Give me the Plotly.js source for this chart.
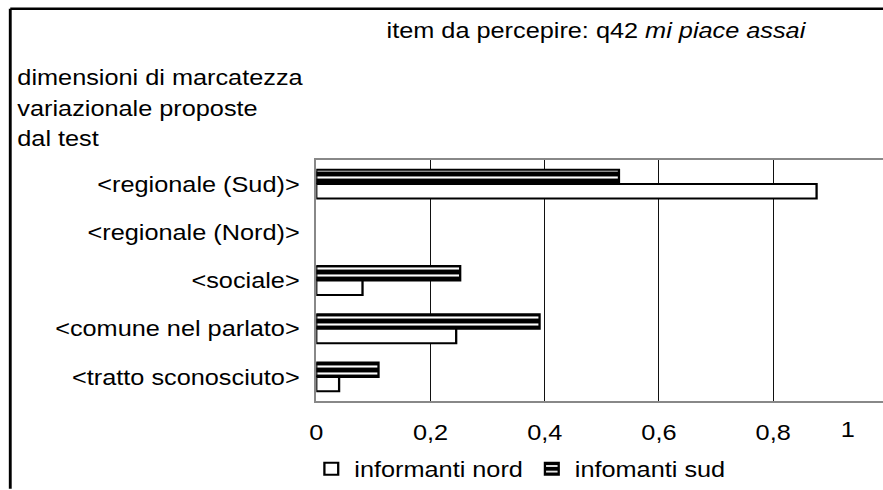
<!DOCTYPE html>
<html>
<head>
<meta charset="utf-8">
<script src="https://cdn.plot.ly/plotly-3.0.1.min.js"></script>
<style>
  html, body { margin: 0; padding: 0; background: #fff; overflow: hidden; }
  #wrap { width: 883px; height: 490px; overflow: hidden; position: relative; }
  #chart { width: 768px; height: 490px; transform: scaleX(1.15); transform-origin: 0 0; }
</style>
</head>
<body>
<div id="wrap"><div id="chart"></div></div>
<script>
const categories = ['<regionale (Sud)>', '<regionale (Nord)>', '<sociale>', '<comune nel parlato>', '<tratto sconosciuto>'];
const nordValues = [0.876, 0, 0.081, 0.245, 0.04];
const sudValues = [0.53, 0, 0.252, 0.391, 0.109];
const xTickVals = [0, 0.2, 0.4, 0.6, 0.8];
const xTickText = ['0', '0,2', '0,4', '0,6', '0,8'];
const lastTickText = '1';
const seriesNames = ['informanti nord', 'infomanti sud'];
const titleText = 'item da percepire: q42 <i>mi piace assai</i>';
const axisTitleLines = ['dimensioni di marcatezza', 'variazionale proposte', 'dal test'];

const FONT = '"Liberation Sans", Arial, Helvetica, sans-serif';
const FS = 22;
const S = 1.15;              // horizontal stretch of the reference
const W = 768, H = 490;
const L = 316.4 / S;         // plot left (unscaled px)
const T = 160, B = 402;
const PW = W - L, PH = B - T;
const px = X => (X / S - L) / PW;      // screen X -> paper x
const py = Y => (B - Y) / PH;          // screen Y -> paper y
const unitPx = 571 / S;
const xMax = PW / unitPx;

const esc = s => s.replace(/</g, '&lt;').replace(/>/g, '&gt;');
const lineWidths = vals => vals.map(v => (v > 0 ? 2 : 0));

const traces = [
  {
    type: 'bar', orientation: 'h', name: seriesNames[1],
    y: categories, x: sudValues,
    marker: {
      color: 'black',
      line: {color: 'black', width: lineWidths(sudValues)},
      pattern: {shape: '-', fgcolor: 'white', bgcolor: 'black', size: 7, solidity: 0.3, fillmode: 'replace'}
    },
    legendrank: 2, hoverinfo: 'x+y'
  },
  {
    type: 'bar', orientation: 'h', name: seriesNames[0],
    y: categories, x: nordValues,
    marker: {color: 'white', line: {color: 'black', width: lineWidths(nordValues)}},
    legendrank: 1, hoverinfo: 'x+y'
  }
];

const annotations = [
  {xref: 'paper', yref: 'paper', x: px(597.5), y: py(30), text: titleText, showarrow: false,
   xanchor: 'center', yanchor: 'middle', font: {family: FONT, size: FS, color: 'black'}},
  {xref: 'paper', yref: 'paper', x: px(847), y: py(431), text: lastTickText, showarrow: false,
   xanchor: 'center', yanchor: 'middle', font: {family: FONT, size: FS, color: 'black'}}
];
const lineYs = [77, 108, 138];
axisTitleLines.forEach((t, i) => {
  annotations.push({xref: 'paper', yref: 'paper', x: px(15), y: py(lineYs[i]), text: t, showarrow: false,
    xanchor: 'left', yanchor: 'middle', font: {family: FONT, size: FS, color: 'black'}});
});

const layout = {
  width: W, height: H,
  margin: {l: L, r: 0, t: T, b: H - B, pad: 0},
  paper_bgcolor: 'white', plot_bgcolor: 'white',
  font: {family: FONT, size: FS, color: 'black'},
  barmode: 'group', bargap: 0.4, bargroupgap: 0,
  showlegend: true,
  legend: {orientation: 'h', x: px(520), xanchor: 'center', y: py(470), yanchor: 'middle',
           font: {family: FONT, size: FS, color: 'black'}, itemwidth: 30, traceorder: 'normal',
           bgcolor: 'rgba(0,0,0,0)'},
  xaxis: {
    range: [0, xMax], fixedrange: true,
    tickmode: 'array', tickvals: xTickVals, ticktext: xTickText,
    showgrid: true, gridcolor: 'black', gridwidth: 1 / S, zeroline: false,
    showline: true, linecolor: '#888888', linewidth: 2, mirror: true,
    ticks: '', ticklabelstandoff: 11,
    tickfont: {family: FONT, size: FS, color: 'black'}
  },
  yaxis: {
    type: 'category', autorange: 'reversed', fixedrange: true,
    tickmode: 'array', tickvals: categories, ticktext: categories.map(esc),
    showgrid: false, zeroline: false,
    showline: true, linecolor: '#888888', linewidth: 2,
    ticks: '', ticklabelstandoff: 8,
    tickfont: {family: FONT, size: FS, color: 'black'}
  },
  annotations: annotations,
  shapes: [
    {type: 'line', xref: 'paper', yref: 'paper', x0: px(10.5), x1: px(10.5), y0: py(8), y1: py(490), line: {color: 'black', width: 2.5}},
    {type: 'line', xref: 'paper', yref: 'paper', x0: px(10.5), x1: px(883), y0: py(8), y1: py(8), line: {color: 'black', width: 2.5}}
  ]
};

Plotly.newPlot('chart', traces, layout, {displayModeBar: false, staticPlot: true});
</script>
</body>
</html>
